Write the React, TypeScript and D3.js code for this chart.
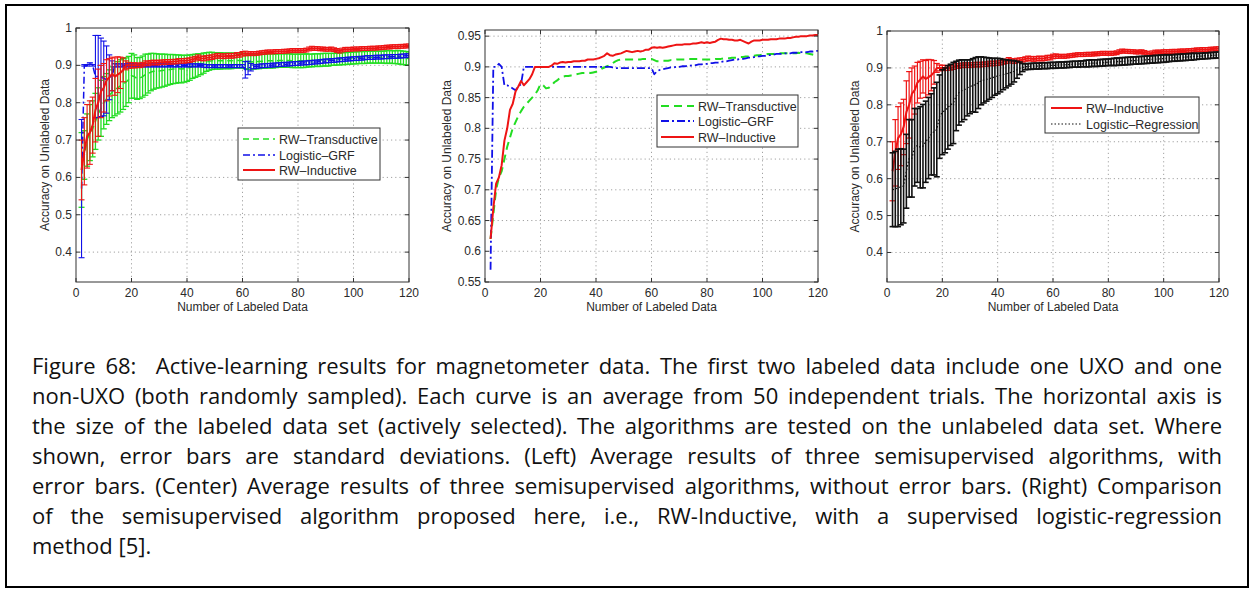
import React, { useEffect, useRef } from 'react';
import * as d3 from 'd3';

// x = number of labeled data, 2..120
const xValues: number[] = d3.range(2, 121);
const xTicks = [0, 20, 40, 60, 80, 100, 120];

// RW-Inductive (mean / std)
const redMean = [
  0.620, 0.670, 0.710, 0.720, 0.740, 0.780, 0.800, 0.830, 0.840, 0.860,
  0.868, 0.877, 0.870, 0.875, 0.880, 0.888, 0.900, 0.900, 0.900, 0.900,
  0.900, 0.900, 0.902, 0.906, 0.905, 0.907, 0.908, 0.907, 0.908, 0.908,
  0.909, 0.909, 0.909, 0.910, 0.910, 0.912, 0.912, 0.912, 0.913, 0.914,
  0.916, 0.918, 0.922, 0.919, 0.918, 0.920, 0.921, 0.922, 0.924, 0.926,
  0.925, 0.924, 0.925, 0.926, 0.925, 0.926, 0.928, 0.928, 0.931, 0.932,
  0.931, 0.932, 0.931, 0.932, 0.933, 0.934, 0.935, 0.936, 0.936, 0.936,
  0.937, 0.937, 0.937, 0.938, 0.938, 0.939, 0.940, 0.939, 0.940, 0.939,
  0.940, 0.941, 0.944, 0.946, 0.945, 0.945, 0.944, 0.944, 0.943, 0.943,
  0.944, 0.942, 0.940, 0.938, 0.941, 0.943, 0.943, 0.943, 0.944, 0.944,
  0.944, 0.945, 0.945, 0.945, 0.946, 0.946, 0.946, 0.947, 0.947, 0.948,
  0.949, 0.949, 0.950, 0.950, 0.950, 0.951, 0.951, 0.952, 0.952,
];
const redStd = [
  0.080, 0.090, 0.085, 0.085, 0.075, 0.085, 0.090, 0.070, 0.065, 0.055,
  0.050, 0.045, 0.050, 0.048, 0.042, 0.032, 0.012, 0.008, 0.007, 0.007,
  0.006, 0.006, 0.006, 0.006, 0.006, 0.006, 0.006, 0.006, 0.006, 0.006,
  0.006, 0.006, 0.006, 0.006, 0.006, 0.006, 0.006, 0.006, 0.006, 0.006,
  0.006, 0.006, 0.006, 0.006, 0.006, 0.006, 0.006, 0.006, 0.006, 0.006,
  0.006, 0.006, 0.006, 0.006, 0.006, 0.006, 0.006, 0.006, 0.006, 0.006,
  0.005, 0.005, 0.005, 0.005, 0.005, 0.005, 0.005, 0.005, 0.005, 0.005,
  0.005, 0.005, 0.005, 0.005, 0.005, 0.005, 0.005, 0.005, 0.005, 0.005,
  0.005, 0.005, 0.005, 0.005, 0.005, 0.005, 0.005, 0.005, 0.005, 0.005,
  0.005, 0.005, 0.005, 0.005, 0.005, 0.005, 0.005, 0.005, 0.005, 0.005,
  0.005, 0.005, 0.005, 0.005, 0.005, 0.005, 0.005, 0.005, 0.005, 0.005,
  0.005, 0.005, 0.005, 0.005, 0.005, 0.005, 0.005, 0.005, 0.005,
];

// RW-Transductive (mean / std)
const greenMean = [
  0.620, 0.660, 0.700, 0.720, 0.730, 0.750, 0.770, 0.785, 0.800, 0.810,
  0.820, 0.828, 0.835, 0.840, 0.845, 0.850, 0.855, 0.862, 0.872, 0.870,
  0.865, 0.866, 0.870, 0.875, 0.878, 0.882, 0.884, 0.885, 0.885, 0.886,
  0.887, 0.888, 0.889, 0.890, 0.890, 0.891, 0.890, 0.891, 0.892, 0.894,
  0.897, 0.899, 0.901, 0.903, 0.906, 0.909, 0.911, 0.912, 0.912, 0.912,
  0.912, 0.912, 0.912, 0.912, 0.912, 0.913, 0.913, 0.913, 0.913, 0.911,
  0.909, 0.909, 0.910, 0.910, 0.910, 0.911, 0.911, 0.912, 0.912, 0.912,
  0.912, 0.913, 0.913, 0.913, 0.913, 0.913, 0.912, 0.912, 0.912, 0.912,
  0.912, 0.913, 0.913, 0.913, 0.914, 0.914, 0.914, 0.915, 0.915, 0.915,
  0.916, 0.916, 0.917, 0.917, 0.918, 0.918, 0.919, 0.919, 0.920, 0.920,
  0.921, 0.921, 0.921, 0.922, 0.922, 0.922, 0.922, 0.922, 0.922, 0.922,
  0.922, 0.923, 0.922, 0.922, 0.922, 0.921, 0.920, 0.919, 0.918,
];
const greenStd = [
  0.100, 0.065, 0.070, 0.075, 0.075, 0.075, 0.070, 0.075, 0.070, 0.068,
  0.068, 0.068, 0.070, 0.070, 0.070, 0.068, 0.065, 0.062, 0.060, 0.058,
  0.056, 0.055, 0.055, 0.055, 0.052, 0.050, 0.048, 0.046, 0.045, 0.044,
  0.043, 0.041, 0.040, 0.039, 0.038, 0.037, 0.037, 0.036, 0.035, 0.034,
  0.032, 0.031, 0.030, 0.028, 0.027, 0.025, 0.024, 0.023, 0.022, 0.022,
  0.022, 0.021, 0.021, 0.021, 0.021, 0.020, 0.020, 0.020, 0.020, 0.020,
  0.020, 0.020, 0.020, 0.019, 0.019, 0.019, 0.019, 0.019, 0.019, 0.019,
  0.018, 0.018, 0.018, 0.018, 0.018, 0.018, 0.018, 0.018, 0.018, 0.018,
  0.018, 0.018, 0.017, 0.017, 0.017, 0.017, 0.017, 0.017, 0.017, 0.017,
  0.016, 0.016, 0.016, 0.016, 0.016, 0.016, 0.016, 0.016, 0.016, 0.016,
  0.016, 0.016, 0.016, 0.016, 0.016, 0.016, 0.016, 0.016, 0.016, 0.016,
  0.017, 0.017, 0.017, 0.017, 0.018, 0.018, 0.018, 0.018, 0.018,
];

// Logistic-GRF (mean / std)
const blueMean = [
  0.570, 0.900, 0.900, 0.905, 0.900, 0.870, 0.870, 0.868, 0.865, 0.862,
  0.868, 0.872, 0.900, 0.900, 0.900, 0.900, 0.900, 0.900, 0.900, 0.900,
  0.900, 0.900, 0.900, 0.900, 0.900, 0.900, 0.900, 0.900, 0.900, 0.900,
  0.900, 0.900, 0.900, 0.900, 0.900, 0.900, 0.900, 0.900, 0.900, 0.900,
  0.900, 0.900, 0.900, 0.900, 0.899, 0.898, 0.898, 0.898, 0.898, 0.898,
  0.898, 0.898, 0.898, 0.898, 0.898, 0.898, 0.898, 0.898, 0.898, 0.888,
  0.893, 0.895, 0.896, 0.897, 0.898, 0.899, 0.899, 0.900, 0.900, 0.901,
  0.901, 0.902, 0.902, 0.903, 0.903, 0.904, 0.904, 0.905, 0.905, 0.906,
  0.906, 0.907, 0.907, 0.908, 0.909, 0.909, 0.910, 0.911, 0.912, 0.912,
  0.913, 0.913, 0.914, 0.915, 0.915, 0.916, 0.917, 0.917, 0.918, 0.918,
  0.919, 0.919, 0.920, 0.921, 0.921, 0.921, 0.922, 0.922, 0.922, 0.923,
  0.923, 0.923, 0.924, 0.924, 0.924, 0.925, 0.925, 0.926, 0.926,
];
const blueStd = [
  0.185, 0.002, 0.002, 0.002, 0.002, 0.110, 0.110, 0.105, 0.100, 0.090,
  0.060, 0.040, 0.004, 0.004, 0.004, 0.004, 0.004, 0.004, 0.004, 0.004,
  0.004, 0.004, 0.004, 0.004, 0.004, 0.004, 0.004, 0.004, 0.004, 0.004,
  0.004, 0.004, 0.004, 0.004, 0.004, 0.004, 0.004, 0.004, 0.004, 0.004,
  0.004, 0.004, 0.004, 0.004, 0.004, 0.004, 0.004, 0.004, 0.004, 0.004,
  0.004, 0.004, 0.004, 0.004, 0.004, 0.004, 0.004, 0.004, 0.004, 0.022,
  0.018, 0.010, 0.005, 0.005, 0.005, 0.005, 0.005, 0.005, 0.005, 0.005,
  0.005, 0.005, 0.005, 0.005, 0.005, 0.005, 0.005, 0.005, 0.005, 0.005,
  0.005, 0.005, 0.005, 0.005, 0.005, 0.005, 0.005, 0.005, 0.005, 0.005,
  0.005, 0.005, 0.005, 0.005, 0.005, 0.005, 0.005, 0.005, 0.005, 0.005,
  0.005, 0.005, 0.005, 0.005, 0.005, 0.005, 0.005, 0.005, 0.005, 0.005,
  0.005, 0.005, 0.005, 0.005, 0.005, 0.005, 0.005, 0.005, 0.005,
];

// Logistic-Regression (mean / std)
const blackMean = [
  0.570, 0.572, 0.575, 0.578, 0.580, 0.620, 0.655, 0.655, 0.685, 0.690,
  0.685, 0.688, 0.700, 0.710, 0.720, 0.728, 0.733, 0.768, 0.780, 0.785,
  0.793, 0.800, 0.805, 0.824, 0.833, 0.838, 0.841, 0.846, 0.849, 0.853,
  0.854, 0.860, 0.865, 0.867, 0.869, 0.871, 0.873, 0.876, 0.878, 0.880,
  0.882, 0.884, 0.886, 0.888, 0.891, 0.895, 0.899, 0.901, 0.903, 0.904,
  0.904, 0.905, 0.905, 0.905, 0.906, 0.906, 0.906, 0.907, 0.907, 0.907,
  0.908, 0.908, 0.908, 0.909, 0.909, 0.910, 0.910, 0.910, 0.911, 0.911,
  0.912, 0.912, 0.913, 0.913, 0.913, 0.914, 0.914, 0.915, 0.915, 0.916,
  0.916, 0.917, 0.917, 0.918, 0.918, 0.919, 0.919, 0.920, 0.920, 0.921,
  0.921, 0.922, 0.922, 0.923, 0.923, 0.924, 0.924, 0.925, 0.925, 0.926,
  0.926, 0.927, 0.927, 0.928, 0.928, 0.929, 0.929, 0.930, 0.930, 0.931,
  0.931, 0.932, 0.932, 0.933, 0.933, 0.934, 0.934, 0.935, 0.935,
];
const blackStd = [
  0.100, 0.102, 0.105, 0.103, 0.100, 0.100, 0.105, 0.105, 0.105, 0.100,
  0.110, 0.113, 0.110, 0.110, 0.110, 0.118, 0.128, 0.113, 0.115, 0.115,
  0.113, 0.110, 0.110, 0.094, 0.088, 0.084, 0.081, 0.076, 0.073, 0.072,
  0.074, 0.070, 0.065, 0.062, 0.059, 0.056, 0.053, 0.050, 0.048, 0.045,
  0.041, 0.038, 0.035, 0.032, 0.029, 0.023, 0.017, 0.011, 0.008, 0.008,
  0.008, 0.008, 0.008, 0.008, 0.008, 0.008, 0.008, 0.008, 0.008, 0.008,
  0.008, 0.008, 0.008, 0.008, 0.008, 0.008, 0.008, 0.008, 0.008, 0.008,
  0.009, 0.009, 0.009, 0.009, 0.009, 0.009, 0.009, 0.009, 0.009, 0.009,
  0.010, 0.010, 0.010, 0.010, 0.010, 0.010, 0.010, 0.010, 0.010, 0.010,
  0.010, 0.010, 0.010, 0.010, 0.010, 0.010, 0.010, 0.010, 0.010, 0.010,
  0.009, 0.009, 0.009, 0.009, 0.009, 0.009, 0.009, 0.009, 0.009, 0.009,
  0.008, 0.008, 0.008, 0.008, 0.008, 0.008, 0.008, 0.008, 0.008,
];

const leftYTicks = [0.4, 0.5, 0.6, 0.7, 0.8, 0.9, 1];
const centerYTicks = [0.55, 0.6, 0.65, 0.7, 0.75, 0.8, 0.85, 0.9, 0.95];
const rightYTicks = [0.4, 0.5, 0.6, 0.7, 0.8, 0.9, 1];

const CAPTION = [
  'Figure 68:  Active-learning results for magnetometer data. The first two labeled data include one UXO and one',
  'non-UXO (both randomly sampled). Each curve is an average from 50 independent trials. The horizontal axis is',
  'the size of the labeled data set (actively selected). The algorithms are tested on the unlabeled data set. Where',
  'shown, error bars are standard deviations. (Left) Average results of three semisupervised algorithms, with',
  'error bars. (Center) Average results of three semisupervised algorithms, without error bars. (Right) Comparison',
  'of the semisupervised algorithm proposed here, i.e., RW-Inductive, with a supervised logistic-regression',
  'method [5].',
];

const GREEN = '#22dd22';
const BLUE = '#1010e8';
const RED = '#ee1414';
const BLACK = '#111111';

type Series = {
  mean: number[];
  std?: number[];
  color: string;
  barW?: number;
  dash?: string;
  lw: number;
};
type LegendEntry = { label: string; color: string; dash?: string; lw: number };
type PanelCfg = {
  id: string;
  left: number; right: number; top: number; bottom: number;
  yDomain: [number, number];
  yTicks: number[];
  yLabelX: number;
  series: Series[];
  legend: { x: number; y: number; w: number; h: number; rows: number[]; sx0: number; sx1: number; tx: number; entries: LegendEntry[] };
  clipX?: number;
};

const PANELS: PanelCfg[] = [
  {
    id: 'left', left: 76, right: 409, top: 28, bottom: 282,
    yDomain: [0.32, 1], yTicks: leftYTicks, yLabelX: 45,
    series: [
      { mean: greenMean, std: greenStd, color: GREEN, dash: '6,4', lw: 1.5, barW: 1.3 },
      { mean: blueMean, std: blueStd, color: BLUE, dash: '7,3,2,3', lw: 1.5, barW: 1.1 },
      { mean: redMean, std: redStd, color: RED, lw: 2, barW: 1.1 },
    ],
    legend: {
      x: 238, y: 128, w: 142, h: 52, rows: [139, 155, 170], sx0: 243, sx1: 275, tx: 279,
      entries: [
        { label: 'RW\u2013Transductive', color: GREEN, dash: '6,4', lw: 1.5 },
        { label: 'Logistic\u2013GRF', color: BLUE, dash: '7,3,2,3', lw: 1.5 },
        { label: 'RW\u2013Inductive', color: RED, lw: 2 },
      ],
    },
  },
  {
    id: 'center', left: 485, right: 818, top: 30, bottom: 282,
    yDomain: [0.55, 0.96], yTicks: centerYTicks, yLabelX: 447,
    series: [
      { mean: greenMean, color: GREEN, dash: '8,5', lw: 2 },
      { mean: blueMean, color: BLUE, dash: '8,3,2,3', lw: 1.8 },
      { mean: redMean, color: RED, lw: 2 },
    ],
    legend: {
      x: 657, y: 95, w: 141, h: 52, rows: [106, 121, 137], sx0: 661, sx1: 694, tx: 698,
      entries: [
        { label: 'RW\u2013Transductive', color: GREEN, dash: '8,5', lw: 2 },
        { label: 'Logistic\u2013GRF', color: BLUE, dash: '8,3,2,3', lw: 1.8 },
        { label: 'RW\u2013Inductive', color: RED, lw: 2 },
      ],
    },
  },
  {
    id: 'right', left: 887, right: 1219, top: 31, bottom: 282,
    yDomain: [0.32, 1], yTicks: rightYTicks, yLabelX: 855,
    series: [
      { mean: redMean, std: redStd, color: RED, lw: 2, barW: 1.2 },
      { mean: blackMean, std: blackStd, color: BLACK, dash: '1.5,2', lw: 1.2, barW: 1.6 },
    ],
    legend: {
      x: 1045, y: 97, w: 154, h: 36, rows: [108, 124], sx0: 1051, sx1: 1082, tx: 1086,
      entries: [
        { label: 'RW\u2013Inductive', color: RED, lw: 2 },
        { label: 'Logistic\u2013Regression', color: BLACK, dash: '1.5,2', lw: 1.2 },
      ],
    },
    clipX: 1229,
  },
];

const AX_FONT = '"Liberation Sans", Arial, Helvetica, sans-serif';
const TXT = '#2a2a2a';

function fmt(v: number) {
  return String(+v.toFixed(2));
}

function Panel({ cfg }: { cfg: PanelCfg }) {
  const x = d3.scaleLinear().domain([0, 120]).range([cfg.left, cfg.right]);
  const y = d3.scaleLinear().domain(cfg.yDomain).range([cfg.bottom, cfg.top]);
  const line = d3.line<number>().x((_, i) => x(xValues[i])).y((d) => y(d));
  const clipId = `plot-${cfg.id}`;
  const panelClip = `panel-${cfg.id}`;
  const cap = 3;
  const tickLen = 4;
  const midX = (cfg.left + cfg.right) / 2;
  const midY = (cfg.top + cfg.bottom) / 2;
  const L = cfg.legend;
  return (
    <g clipPath={cfg.clipX ? `url(#${panelClip})` : undefined}>
      <defs>
        <clipPath id={clipId}>
          <rect x={cfg.left} y={cfg.top} width={cfg.right - cfg.left} height={cfg.bottom - cfg.top} />
        </clipPath>
        {cfg.clipX ? (
          <clipPath id={panelClip}>
            <rect x={cfg.left - 60} y={0} width={cfg.clipX - cfg.left + 60} height={340} />
          </clipPath>
        ) : null}
      </defs>
      <rect x={cfg.left} y={cfg.top} width={cfg.right - cfg.left} height={cfg.bottom - cfg.top} fill="#fff" />
      {/* grid */}
      <g stroke="#8a8a8a" strokeWidth={0.8} strokeDasharray="1.2,3">
        {xTicks.slice(1, -1).map((t) => (
          <line key={`gx${t}`} x1={x(t)} x2={x(t)} y1={cfg.top} y2={cfg.bottom} />
        ))}
        {cfg.yTicks.filter((t) => y(t) > cfg.top + 1 && y(t) < cfg.bottom - 1).map((t) => (
          <line key={`gy${t}`} x1={cfg.left} x2={cfg.right} y1={y(t)} y2={y(t)} />
        ))}
      </g>
      {/* data */}
      <g clipPath={`url(#${clipId})`}>
        {cfg.series.map((s, si) => (
          <g key={si}>
            {s.std ? (
              <g stroke={s.color} strokeWidth={s.barW || 1}>
                {s.mean.map((m, i) => {
                  const xi = x(xValues[i]);
                  const lo = y(m - s.std![i]);
                  const hi = y(m + s.std![i]);
                  return (
                    <g key={i}>
                      <line x1={xi} x2={xi} y1={lo} y2={hi} />
                      <line x1={xi - cap} x2={xi + cap} y1={lo} y2={lo} />
                      <line x1={xi - cap} x2={xi + cap} y1={hi} y2={hi} />
                    </g>
                  );
                })}
              </g>
            ) : null}
            <path d={line(s.mean) || ''} fill="none" stroke={s.color} strokeWidth={s.lw} strokeDasharray={s.dash} strokeLinejoin="round" />
          </g>
        ))}
      </g>
      {/* box + ticks */}
      <rect x={cfg.left} y={cfg.top} width={cfg.right - cfg.left} height={cfg.bottom - cfg.top} fill="none" stroke="#333" strokeWidth={1} />
      <g stroke="#333" strokeWidth={1}>
        {xTicks.map((t) => (
          <g key={`tx${t}`}>
            <line x1={x(t)} x2={x(t)} y1={cfg.bottom} y2={cfg.bottom - tickLen} />
            <line x1={x(t)} x2={x(t)} y1={cfg.top} y2={cfg.top + tickLen} />
          </g>
        ))}
        {cfg.yTicks.map((t) => (
          <g key={`ty${t}`}>
            <line x1={cfg.left} x2={cfg.left + tickLen} y1={y(t)} y2={y(t)} />
            <line x1={cfg.right} x2={cfg.right - tickLen} y1={y(t)} y2={y(t)} />
          </g>
        ))}
      </g>
      <g fontFamily={AX_FONT} fontSize={12} fill={TXT}>
        {xTicks.map((t) => (
          <text key={`lx${t}`} x={x(t)} y={cfg.bottom + 15} textAnchor="middle">{fmt(t)}</text>
        ))}
        {cfg.yTicks.map((t) => (
          <text key={`ly${t}`} x={cfg.left - 4} y={y(t) + 4} textAnchor="end">{fmt(t)}</text>
        ))}
        <text x={midX} y={cfg.bottom + 29} textAnchor="middle">Number of Labeled Data</text>
        <text transform={`translate(${cfg.yLabelX + 4},${midY}) rotate(-90)`} textAnchor="middle">Accuracy on Unlabeled Data</text>
      </g>
      {/* legend */}
      <g>
        <rect x={L.x} y={L.y} width={L.w} height={L.h} fill="#fff" stroke="#333" strokeWidth={1} />
        {L.entries.map((e, i) => (
          <g key={e.label}>
            <line x1={L.sx0} x2={L.sx1} y1={L.rows[i]} y2={L.rows[i]} stroke={e.color} strokeWidth={e.lw} strokeDasharray={e.dash} />
            <text x={L.tx} y={L.rows[i] + 4.5} fontFamily={AX_FONT} fontSize={12.5} fill={TXT}>{e.label}</text>
          </g>
        ))}
      </g>
    </g>
  );
}

const CAP_LEFT = 32;
const CAP_WIDTH = 1190;
const CAP_BASE = 374;
const CAP_STEP = 30;

function Caption() {
  const ref = useRef<SVGGElement>(null);
  useEffect(() => {
    const justify = () => {
      const g = ref.current;
      if (!g) return;
      const texts = Array.from(g.querySelectorAll('text')) as SVGTextElement[];
      texts.forEach((t, i) => {
        if (i >= CAPTION.length - 1) return;
        t.setAttribute('word-spacing', '0');
        const w = t.getComputedTextLength();
        const n = (CAPTION[i].match(/ /g) || []).length;
        if (n > 0) t.setAttribute('word-spacing', String((CAP_WIDTH - w) / n));
      });
    };
    justify();
    if ((document as any).fonts && (document as any).fonts.ready) {
      (document as any).fonts.ready.then(justify);
    }
  }, []);
  return (
    <g ref={ref} fontFamily='"Open Sans", Lato, sans-serif' fontSize={22} fill="#111">
      {CAPTION.map((c, i) => (
        <text key={i} x={CAP_LEFT} y={CAP_BASE + i * CAP_STEP} style={{ whiteSpace: 'pre' }}>{c}</text>
      ))}
    </g>
  );
}

export default function App() {
  return (
    <svg
      width={1254}
      height={593}
      viewBox="0 0 1254 593"
      style={{ position: 'absolute', left: 0, top: 0, background: '#fff' }}
    >
      <rect x={0} y={0} width={1254} height={593} fill="#fff" />
      <rect x={6} y={5} width={1242} height={582} fill="none" stroke="#000" strokeWidth={2} />
      {PANELS.map((p) => (
        <Panel key={p.id} cfg={p} />
      ))}
      <Caption />
    </svg>
  );
}
